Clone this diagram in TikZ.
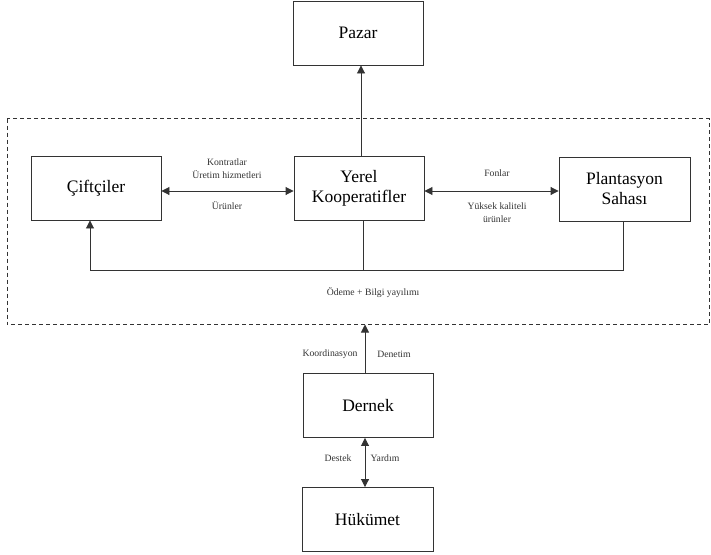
\documentclass[tikz,border=0pt]{standalone}
\usepackage{fontspec}
\setmainfont{Liberation Serif}
\usetikzlibrary{arrows.meta}
\begin{document}
\begin{tikzpicture}[x=1pt,y=-1pt,
  box/.style={draw=black!80,line width=0.9pt,minimum width=130pt,minimum height=64pt,
    align=center,font=\fontsize{17.5}{20}\selectfont,inner sep=2pt},
  lbl/.style={font=\fontsize{9.7}{11}\selectfont,text=black!80,align=center,inner sep=0pt},
  link/.style={draw=black!80,line width=0.9pt},
  tip/.style={-{Triangle[length=8pt,width=8pt]}},
  tips/.style={{Triangle[length=8pt,width=8pt]}-{Triangle[length=8pt,width=8pt]}}]
\useasboundingbox (0,0) rectangle (711,554);
% group of local actors
\draw[black!80,line width=0.8pt,dash pattern=on 4pt off 3pt] (7,118.5) rectangle (709,324.5);
% boxes
\node[box] (pazar) at (358,33) {Pazar};
\node[box] (ciftci) at (96,188) {Çiftçiler};
\node[box] (yerel) at (359,188) {Yerel\\Kooperatifler};
\node[box,minimum width=131pt] (plant) at (624.5,189) {Plantasyon\\Sahası};
\node[box] (dernek) at (368,405.5) {Dernek};
\node[box,minimum width=131pt] (hukumet) at (367.5,519.5) {Hükümet};
% frame border and return path points
\coordinate (frameb) at (365,324.5);
\coordinate (r1) at (623,270);
\coordinate (r2) at (90,270);
\coordinate (r3) at (363,270);
% connectors
\draw[link,tip] (yerel.north -| 361,0) -- (pazar.south -| 361,0);
\draw[link,tips] (ciftci.east |- 0,191) -- (yerel.west |- 0,191);
\draw[link,tips] (yerel.east |- 0,191) -- (plant.west |- 0,191);
\draw[link,tip] (plant.south -| r1) -- (r1) -- (r2) -- (ciftci.south -| r2);
\draw[link] (yerel.south -| r3) -- (r3);
\draw[link,tip] (dernek.north -| frameb) -- (frameb);
\draw[link,tips] (dernek.south -| 365,0) -- (hukumet.north -| 365,0);
% labels
\node[lbl] (l1) at (227,162) {Kontratlar};
\node[lbl] (l2) at (227,175) {Üretim hizmetleri};
\node[lbl] (l3) at (227,206) {Ürünler};
\node[lbl] (l4) at (497,173) {Fonlar};
\node[lbl] (l5) at (497,206) {Yüksek kaliteli};
\node[lbl] (l6) at (497,219) {ürünler};
\node[lbl] (l7) at (373,293) {Ödeme + Bilgi yayılımı};
\node[lbl] (l8) at (330,354) {Koordinasyon};
\node[lbl] (l9) at (394,354) {Denetim};
\node[lbl] (l10) at (338,458) {Destek};
\node[lbl] (l11) at (385,458) {Yardım};
\end{tikzpicture}
\end{document}
